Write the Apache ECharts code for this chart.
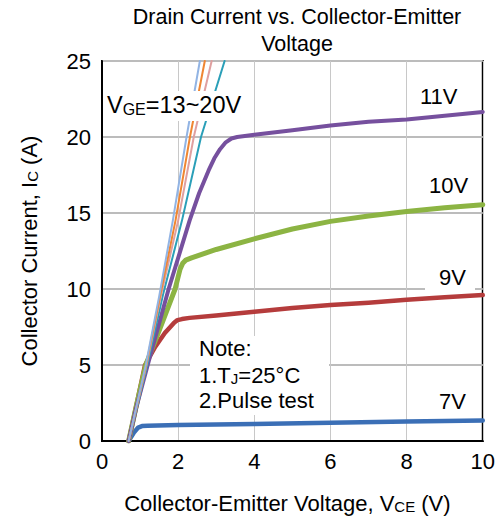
<!DOCTYPE html>
<html>
<head>
<meta charset="utf-8">
<script src="https://cdn.jsdelivr.net/npm/echarts@6/dist/echarts.min.js"></script>
<style>
  html, body { margin: 0; padding: 0; background: #fff; }
  #chart { width: 498px; height: 522px; }
</style>
</head>
<body>
<div id="chart"></div>
<script>
// Output characteristics: collector current vs. collector-emitter voltage per gate voltage
const xTicks = [0, 2, 4, 6, 8, 10];
const yTicks = [0, 5, 10, 15, 20, 25];

// VGE = 7V
const vce7V = [0.7, 0.85, 0.95, 1.05, 1.2, 2, 4, 6, 8, 10];
const ic7V  = [0, 0.6, 0.88, 0.98, 1.0, 1.05, 1.12, 1.2, 1.28, 1.35];

// VGE = 9V
const vce9V = [0.7, 0.9, 1.13, 1.4, 1.65, 1.9, 1.98, 2.1, 2.3, 3, 4, 5, 6, 7, 8, 9, 10];
const ic9V  = [0, 2.3, 5, 6.2, 7.1, 7.8, 7.95, 8.02, 8.1, 8.25, 8.5, 8.75, 8.95, 9.1, 9.3, 9.45, 9.6];

// VGE = 10V
const vce10V = [0.7, 0.9, 1.15, 1.6, 1.92, 2.05, 2.12, 2.2, 2.35, 3, 4, 5, 6, 7, 8, 9, 10];
const ic10V  = [0, 2.3, 5, 7.9, 10, 11.3, 11.7, 11.9, 12.05, 12.6, 13.3, 13.95, 14.45, 14.8, 15.1, 15.35, 15.55];

// VGE = 11V
const vce11V = [0.7, 0.9, 1.2, 1.75, 2.3, 2.55, 2.8, 2.95, 3.1, 3.25, 3.4, 3.55, 3.7, 4, 5, 6, 7, 8, 9, 10];
const ic11V  = [0, 2.2, 5, 10, 14.5, 16.3, 17.8, 18.6, 19.2, 19.65, 19.9, 20.0, 20.05, 20.15, 20.45, 20.75, 21.0, 21.15, 21.4, 21.65];

// VGE = 13~20V (steep, unsaturated within range)
const vceA = [0.7, 1.15, 1.5, 1.86, 2.22, 2.57];
const icA  = [0, 5, 9.5, 14.5, 20, 25];
const vceB = [0.7, 1.16, 1.53, 1.93, 2.31, 2.7];
const icB  = [0, 5, 9.6, 14.5, 20, 25];
const vceC = [0.7, 1.17, 1.56, 2.0, 2.41, 2.88];
const icC  = [0, 5, 9.7, 14.5, 20, 25];
const vceD = [0.7, 1.19, 1.6, 2.1, 2.6, 3.22];
const icD  = [0, 5, 9.6, 14.5, 20, 25];

const zip = (xs, ys) => xs.map((x, i) => [x, ys[i]]);

const FAMILY = '"Liberation Sans", Arial, sans-serif';
const FS = 22;

function curve(name, xs, ys, color, width) {
  return {
    name, type: 'line', data: zip(xs, ys), showSymbol: false, symbol: 'none',
    smooth: false, clip: true,
    lineStyle: { color, width, cap: 'round', join: 'round' },
    emphasis: { disabled: true }, z: 3
  };
}

// plain annotation text, anchored at its left edge and vertical middle
function label(text, x, y, rich, size) {
  return {
    type: 'text', x, y, z: 101,
    style: {
      text, fontSize: size || FS, fontFamily: FAMILY, fill: '#000',
      align: 'left', verticalAlign: 'middle',
      rich: rich || undefined
    }
  };
}

// white patch behind an annotation
function patch(x, y, width, height) {
  return { type: 'rect', z: 100, shape: { x, y, width, height }, style: { fill: '#fff' } };
}

const subRich = (size, pad) => ({
  s: { fontSize: size, fontFamily: FAMILY, fill: '#000', color: '#000', verticalAlign: 'bottom', padding: [pad, 0, 0, 0] }
});

const chart = echarts.init(document.getElementById('chart'), null, { renderer: 'svg' });

chart.setOption({
  animation: false,
  backgroundColor: '#fff',
  grid: {
    left: 102, right: 14, top: 61, bottom: 81,
    show: true, borderColor: '#000', borderWidth: 2, backgroundColor: 'transparent'
  },
  xAxis: {
    type: 'value', min: xTicks[0], max: xTicks[xTicks.length - 1], interval: 2,
    axisLine: { show: true, lineStyle: { color: '#000', width: 2 } },
    axisTick: { show: false },
    axisLabel: { color: '#000', fontSize: FS, fontFamily: FAMILY, margin: 9 },
    splitLine: { show: true, lineStyle: { color: '#c8c8c8', width: 1 } },
    name: 'Collector-Emitter Voltage, V{s|CE} (V)',
    nameLocation: 'middle', nameGap: 51,
    nameTextStyle: { color: '#000', fontSize: FS, fontFamily: FAMILY, padding: [0, 10, 0, 0], rich: subRich(15, 7) }
  },
  yAxis: {
    type: 'value', min: yTicks[0], max: yTicks[yTicks.length - 1], interval: 5,
    axisLine: { show: true, lineStyle: { color: '#000', width: 2 } },
    axisTick: { show: false },
    axisLabel: { color: '#000', fontSize: FS, fontFamily: FAMILY, margin: 11 },
    splitLine: { show: true, lineStyle: { color: '#bcbcbc', width: 2 } },
    name: 'Collector Current, I{s|C} (A)',
    nameLocation: 'middle', nameGap: 62, nameRotate: 90,
    nameTextStyle: { color: '#000', fontSize: FS, fontFamily: FAMILY, rich: subRich(15, 7) }
  },
  series: [
    curve('7V', vce7V, ic7V, '#3b6fb6', 4.5),
    curve('9V', vce9V, ic9V, '#b53c3c', 4.5),
    curve('10V', vce10V, ic10V, '#8cb443', 5),
    curve('11V', vce11V, ic11V, '#76509e', 4),
    curve('13V', vceD, icD, '#2a9fb8', 2),
    curve('14V', vceC, icC, '#dfa0a0', 2),
    curve('15V', vceB, icB, '#ef8632', 2),
    curve('20V', vceA, icA, '#92b4e4', 2)
  ],
  graphic: [
    {
      type: 'text', x: 297, y: 3, z: 101,
      style: {
        text: 'Drain Current vs. Collector-Emitter\nVoltage',
        fontSize: 21.5, fontFamily: FAMILY, fill: '#000',
        align: 'center', verticalAlign: 'top', lineHeight: 27
      }
    },
    patch(105, 91, 142, 30),
    label('V{s|GE}=13~20V', 107, 105, subRich(16, 7), 23.5),
    label('11V', 420, 96),
    label('10V', 429, 185),
    patch(425, 264, 50, 28),
    label('9V', 439, 277),
    label('7V', 439, 401),
    patch(190, 336, 139, 79),
    label('Note:', 199, 348),
    label('1.T{s|J}=25°C', 199, 375, subRich(15, 7)),
    label('2.Pulse test', 199, 400)
  ]
});
</script>
</body>
</html>
